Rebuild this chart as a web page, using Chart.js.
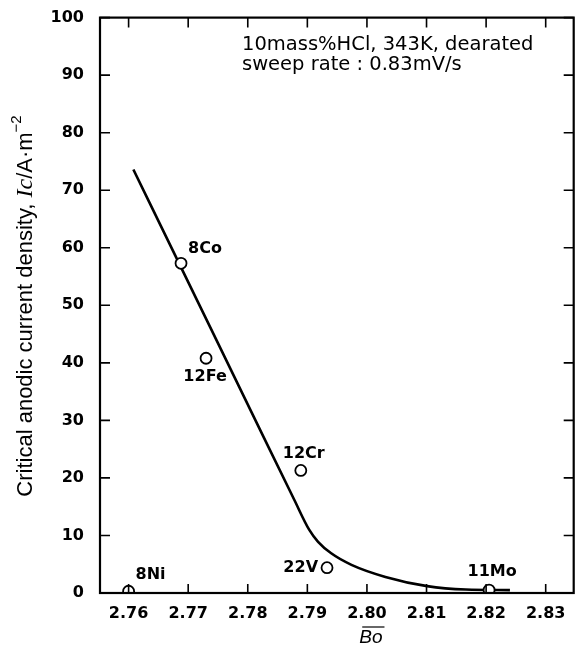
<!DOCTYPE html>
<html>
<head>
<meta charset="utf-8">
<script src="https://cdn.jsdelivr.net/npm/chart.js@4.4.1/dist/chart.umd.min.js"></script>
<style>
  html, body { margin: 0; padding: 0; background: #fff; }
  #wrap { width: 581px; height: 651px; position: relative; }
</style>
</head>
<body>
<div id="wrap"><canvas id="myChart"></canvas></div>
<script>
// fitted curve
const curveBo = [2.7608, 2.7688, 2.7805, 2.7878, 2.7903, 2.7918, 2.7940, 2.7974, 2.8031, 2.8101, 2.8166, 2.8240];
const curveIc = [73.6, 56.6, 31.7, 16.2, 11.0, 8.9, 6.9, 4.9, 2.8, 1.2, 0.6, 0.5];

// measured alloys
const alloyNames = ['8Ni', '8Co', '12Fe', '12Cr', '22V', '11Mo'];
const alloyBo = [2.7600, 2.7688, 2.7730, 2.7889, 2.7933, 2.8205];
const alloyIc = [0.3, 57.3, 40.8, 21.3, 4.4, 0.5];

const xTicks = [2.76, 2.77, 2.78, 2.79, 2.80, 2.81, 2.82, 2.83];
const yTicks = [0, 10, 20, 30, 40, 50, 60, 70, 80, 90, 100];

const noteLines = ['10mass%HCl, 343K, dearated', 'sweep rate : 0.83mV/s'];

// where each label sits relative to its circle
const labelPlace = {
  '8Ni':  { dx: 7,  dy: -16, align: 'left' },
  '8Co':  { dx: 7,  dy: -14, align: 'left' },
  '12Fe': { dx: -1, dy: 19,  align: 'center' },
  '12Cr': { dx: 3,  dy: -17, align: 'center' },
  '22V':  { dx: -9, dy: 0,   align: 'right' },
  '11Mo': { dx: 3,  dy: -18, align: 'center' }
};

const tickFont = 'bold 16px "DejaVu Sans"';

const paperFrame = {
  id: 'paperFrame',
  afterDatasetsDraw(chart) {
    const ctx = chart.ctx;
    const a = chart.chartArea;
    const xs = chart.scales.x, ys = chart.scales.y;
    ctx.save();
    ctx.strokeStyle = '#000';
    ctx.fillStyle = '#000';

    // inward ticks on all four sides
    ctx.lineWidth = 1.6;
    ctx.beginPath();
    xTicks.forEach(v => {
      const px = xs.getPixelForValue(v);
      ctx.moveTo(px, a.bottom); ctx.lineTo(px, a.bottom - 9);
      ctx.moveTo(px, a.top); ctx.lineTo(px, a.top + 10);
    });
    yTicks.forEach(v => {
      const py = ys.getPixelForValue(v);
      ctx.moveTo(a.left, py); ctx.lineTo(a.left + 10, py);
      ctx.moveTo(a.right, py); ctx.lineTo(a.right - 10, py);
    });
    ctx.stroke();

    // frame
    ctx.lineWidth = 2.2;
    ctx.strokeRect(a.left, a.top, a.right - a.left, a.bottom - a.top);

    // alloy labels
    ctx.font = tickFont;
    ctx.textBaseline = 'middle';
    alloyNames.forEach((n, i) => {
      const p = labelPlace[n];
      ctx.textAlign = p.align;
      ctx.fillText(n, xs.getPixelForValue(alloyBo[i]) + p.dx, ys.getPixelForValue(alloyIc[i]) + p.dy);
    });

    // conditions note
    ctx.font = '19.5px "DejaVu Sans"';
    ctx.textAlign = 'left';
    ctx.fillText(noteLines[0], 242, 45);
    ctx.fillText(noteLines[1], 242, 65);

    // y title, mixed fonts, centred between y=110 and y=503
    const parts = [
      ['Critical anodic current density, ', '22px "Liberation Sans"', 0],
      ['Ic', 'italic 24px "Liberation Serif"', 0],
      ['/A\u00b7m', '22px "Liberation Sans"', 0],
      ['\u22122', '15px "Liberation Sans"', -9]
    ];
    let total = 0;
    parts.forEach(p => { ctx.font = p[1]; total += ctx.measureText(p[0]).width; });
    ctx.translate(26, 306 + total / 2);
    ctx.rotate(-Math.PI / 2);
    ctx.textAlign = 'left';
    ctx.textBaseline = 'middle';
    let x = 0;
    parts.forEach(p => {
      ctx.font = p[1];
      ctx.fillText(p[0], x, p[2]);
      x += ctx.measureText(p[0]).width;
    });
    ctx.restore();

    // x title with overbar
    ctx.save();
    ctx.fillStyle = '#000';
    ctx.font = 'italic 19px "Liberation Sans"';
    ctx.textAlign = 'center';
    ctx.textBaseline = 'middle';
    const tx = (a.left + a.right) / 2 + 34;
    ctx.fillText('Bo', tx, 638);
    const w = ctx.measureText('Bo').width;
    ctx.lineWidth = 1.2;
    ctx.beginPath();
    ctx.moveTo(tx - w / 2 + 3, 627);
    ctx.lineTo(tx + w / 2 + 2, 627);
    ctx.stroke();
    ctx.restore();
  }
};

const data = {
  datasets: [
    {
      label: 'points',
      data: alloyBo.map((b, i) => ({ x: b, y: alloyIc[i] })),
      showLine: false,
      pointRadius: 5.5,
      pointBorderWidth: 1.8,
      pointBackgroundColor: '#fff',
      pointBorderColor: '#000',
      order: 0
    },
    {
      label: 'curve',
      data: curveBo.map((b, i) => ({ x: b, y: curveIc[i] })),
      showLine: true,
      borderColor: '#000',
      borderWidth: 2.6,
      pointRadius: 0,
      cubicInterpolationMode: 'monotone',
      fill: false,
      order: 1
    }
  ]
};

const config = {
  type: 'scatter',
  data: data,
  options: {
    responsive: true,
    maintainAspectRatio: false,
    animation: false,
    layout: { padding: { left: 0, right: 6, top: 16, bottom: 0 } },
    plugins: {
      legend: { display: false },
      tooltip: { enabled: false }
    },
    scales: {
      x: {
        type: 'linear',
        min: 2.7552,
        max: 2.8347,
        grid: { display: false },
        border: { display: false },
        afterBuildTicks: s => { s.ticks = xTicks.map(v => ({ value: v })); },
        ticks: {
          color: '#000',
          font: { family: 'DejaVu Sans', size: 16, weight: 'bold' },
          padding: 3,
          maxRotation: 0,
          callback: v => Number(v).toFixed(2)
        },
        afterFit: s => { s.height = 58; }
      },
      y: {
        min: 0,
        max: 100,
        grid: { display: false },
        border: { display: false },
        afterBuildTicks: s => { s.ticks = yTicks.map(v => ({ value: v })); },
        ticks: {
          color: '#000',
          font: { family: 'DejaVu Sans', size: 16, weight: 'bold' },
          padding: 8
        },
        afterFit: s => { s.width = 100; }
      }
    }
  },
  plugins: [paperFrame]
};

const ctx = document.getElementById('myChart').getContext('2d');
const chartItem = Chart.getChart('myChart');
if (chartItem) chartItem.destroy();
const chart = new Chart(ctx, config);
</script>
</body>
</html>
